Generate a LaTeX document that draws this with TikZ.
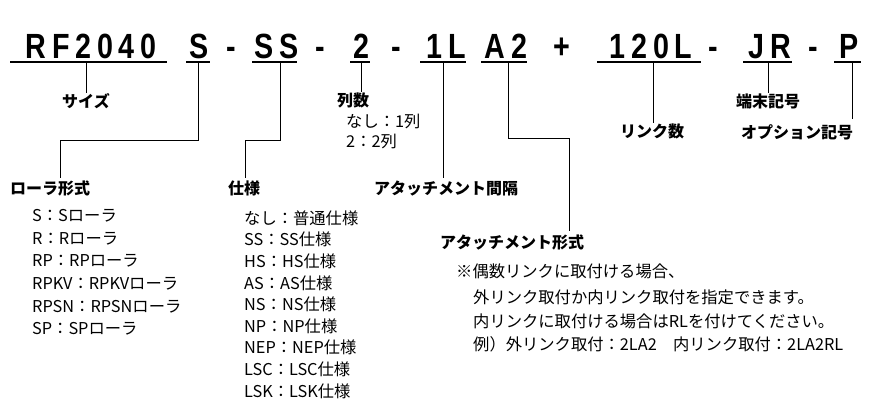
\documentclass[tikz,border=0pt]{standalone}
\usepackage{fontspec}
\setmainfont{Noto Sans CJK JP}
\newfontfamily\codefont[LetterSpace=20]{Liberation Sans}
\begin{document}
\begin{tikzpicture}[x=1pt,y=-1pt,
  code/.style={font=\codefont\bfseries\fontsize{35}{35}\selectfont,inner sep=0pt,anchor=base,xscale=0.82},
  lab/.style={font=\bfseries\fontsize{16}{18}\selectfont,inner sep=0pt},
  lst/.style={font=\fontsize{16.3}{18}\selectfont,inner sep=0pt,anchor=west},
  ul/.style={line width=1.6pt},
  ln/.style={line width=0.7pt}]
\useasboundingbox (0,0) rectangle (880,407);
% code row
\foreach \t/\x/\n in {RF2040/91/c1,S/199/c2,-/231/d1,SS/277/c3,-/320/d2,2/361/c4,-/396/d3,1L/446/c5,A2/506/c6,+/562/d4,120L/651/c7,-/713/d5,JR/770/d6,-/813/d7,P/849/c8}
  \node[code] (\n) at (\x,58) {\t};
% underlines
\foreach \a/\b in {10/167,186/210,252/297,350/370,420/466,481/527,597/701,743/792,834/861}
  \draw[ul] (\a,62) -- (\b,62);
% labels
\node[lab] (size) at (86,101) {サイズ};
\node[lab,anchor=west] (retsu) at (337,100) {列数};
\node[lab] (tanmatsu) at (768,101) {端末記号};
\node[lab] (link) at (652,131) {リンク数};
\node[lab,anchor=west] (option) at (741,132) {オプション記号};
\node[lab,anchor=west] (roller) at (10,188) {ローラ形式};
\node[lab,anchor=west] (shiyou) at (228,188) {仕様};
\node[lab,anchor=west] (kankaku) at (374,189) {アタッチメント間隔};
\node[lab,anchor=west] (keishiki) at (440,242) {アタッチメント形式};
% connectors
\draw[ln] (86,63) -- (size.north);
\draw[ln] (198,63) -- (198,140) -- (60,140) -- (60,178);
\draw[ln] (280,63) -- (280,140) -- (245,140) -- (245,178);
\draw[ln] (361,63) -- (retsu.north -| 361,0);
\draw[ln] (443,63) -- (443,178);
\draw[ln] (508,63) -- (508,138) -- (569,138) -- (569,231);
\draw[ln] (653,63) -- (link.north -| 653,0);
\draw[ln] (768,63) -- (tanmatsu.north);
\draw[ln] (852,63) -- (852,119);
% lists
\node[lst] (r1) at (346,121) {なし：1列};
\node[lst] (r2) at (346,141) {2：2列};
\foreach \t [count=\i] in {S：Sローラ,R：Rローラ,RP：RPローラ,RPKV：RPKVローラ,RPSN：RPSNローラ,SP：SPローラ}
  \node[lst] (ro\i) at (32,{193+22.7*\i}) {\t};
\foreach \t [count=\i] in {なし：普通仕様,SS：SS仕様,HS：HS仕様,AS：AS仕様,NS：NS仕様,NP：NP仕様,NEP：NEP仕様,LSC：LSC仕様,LSK：LSK仕様}
  \node[lst] (sh\i) at (244,{196.5+21.6*\i}) {\t};
\node[lst] (n1) at (456,271) {※偶数リンクに取付ける場合、};
\node[lst] (n2) at (473,297) {外リンク取付か内リンク取付を指定できます。};
\node[lst] (n3) at (473,321) {内リンクに取付ける場合はRLを付けてください。};
\node[lst] (n4) at (473,344) {例）外リンク取付：2LA2\quad 内リンク取付：2LA2RL};
\end{tikzpicture}
\end{document}
